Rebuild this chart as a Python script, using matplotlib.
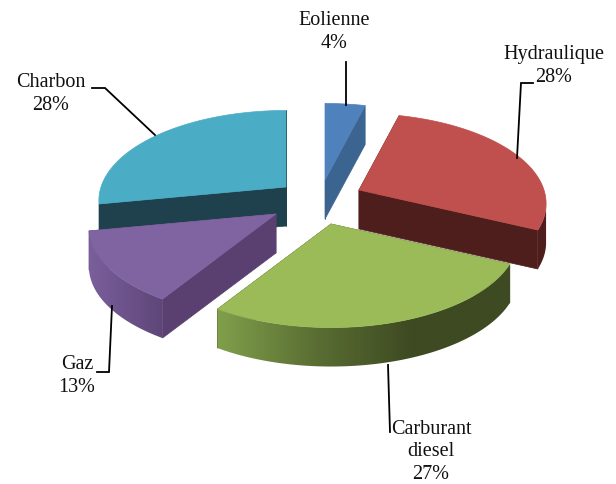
import numpy as np
import matplotlib
matplotlib.use('Agg')
import matplotlib.pyplot as plt
from matplotlib.colors import LinearSegmentedColormap
from matplotlib.patches import Polygon

labels = ['Eolienne', 'Hydraulique', 'Carburant\ndiesel', 'Gaz', 'Charbon']
values = [4, 28, 27, 13, 28]

# how far each slice is pulled out (pixels), then the colours
shift = [(10, -17), (44, -7), (16, 27), (-39, 17), (-29, -10)]
top_colors = ['#4F81BD', '#C0504D', '#9BBB59', '#8064A2', '#4BACC6']
cut_colors = ['#3B6491', '#4E1E1D', '#3E4A22', '#5A4070', '#1E414D']
side_colors = [['#3B6491', '#3B6491'],
               ['#4E1E1D', '#4E1E1D'],
               ['#80A04B', '#5A6E33', '#3E4A22', '#3E4A22'],
               ['#7A5F9C', '#5F4678'],
               ['#1E414D', '#1E414D']]

# label position (pixels) and leader line of each slice
label_pos = [(334, 32), (554, 66), (431, 452), (77, 376), (51, 94)]
leaders = [[(346, 62), (346, 105)],
           [(533, 83), (521, 83), (517, 158)],
           [(388, 365), (390, 432)],
           [(97, 372), (109, 372), (112, 306)],
           [(92, 88), (105, 88), (155, 135)]]

# pie geometry in pixels
cx, cy = 315, 197
rx, ry = 185, 88
persp = 0.15
depth = 39

fig = plt.figure(figsize=(6.16, 4.84), dpi=100)
ax = fig.add_axes([0, 0, 1, 1])
ax.axis('off')


def project(ang):
    # angle clockwise from the top of the pie, small perspective on top
    x = np.sin(ang)
    y = -np.cos(ang)
    d = 1 - persp * y
    return rx * x / d, ry * y / d


cum = np.cumsum([0] + values) / sum(values) * 2 * np.pi

# back slices first so that the front ones cover them
for rank, i in enumerate([4, 0, 1, 3, 2]):
    ang = np.linspace(cum[i], cum[i + 1], 80)
    ox = cx + shift[i][0]
    oy = cy + shift[i][1]
    px, py = project(ang)
    px = px + ox
    py = py + oy
    z = rank * 3

    # the two cut faces
    for k in [0, -1]:
        ax.fill([ox, px[k], px[k], ox], [oy, py[k], py[k] + depth, oy + depth],
                color=cut_colors[i], lw=0.5, zorder=z)

    # outer wall, only the part facing the viewer, gradient clipped to it
    front = np.gradient(px) < 0
    if front.sum() > 1:
        wx, wy = px[front], py[front]
        cmap = LinearSegmentedColormap.from_list('side', side_colors[i])
        wall = Polygon(np.c_[np.r_[wx, wx[::-1]], np.r_[wy, wy[::-1] + depth]],
                       transform=ax.transData, fc='none', ec='none')
        ax.add_patch(wall)
        im = ax.imshow(np.linspace(0, 1, 256)[None, :], cmap=cmap, aspect='auto',
                       extent=(wx.min(), wx.max(), wy.max() + depth, wy.min()),
                       zorder=z + 1)
        im.set_clip_path(wall)

    # top of the slice
    ax.fill(np.r_[ox, px], np.r_[oy, py], color=top_colors[i], lw=0.5, zorder=z + 2)

    line = np.array(leaders[i])
    ax.plot(line[:, 0], line[:, 1], color='black', lw=1.3, solid_joinstyle='miter', zorder=50)
    ax.text(label_pos[i][0], label_pos[i][1], f'{labels[i]}\n{values[i]}%',
            ha='center', va='center', ma='center', fontsize=14.5,
            family='Liberation Serif', linespacing=1.22, color='#111111', zorder=51)

ax.set_xlim(0, 616)
ax.set_ylim(484, 0)
fig.savefig('out.png', dpi=100)
